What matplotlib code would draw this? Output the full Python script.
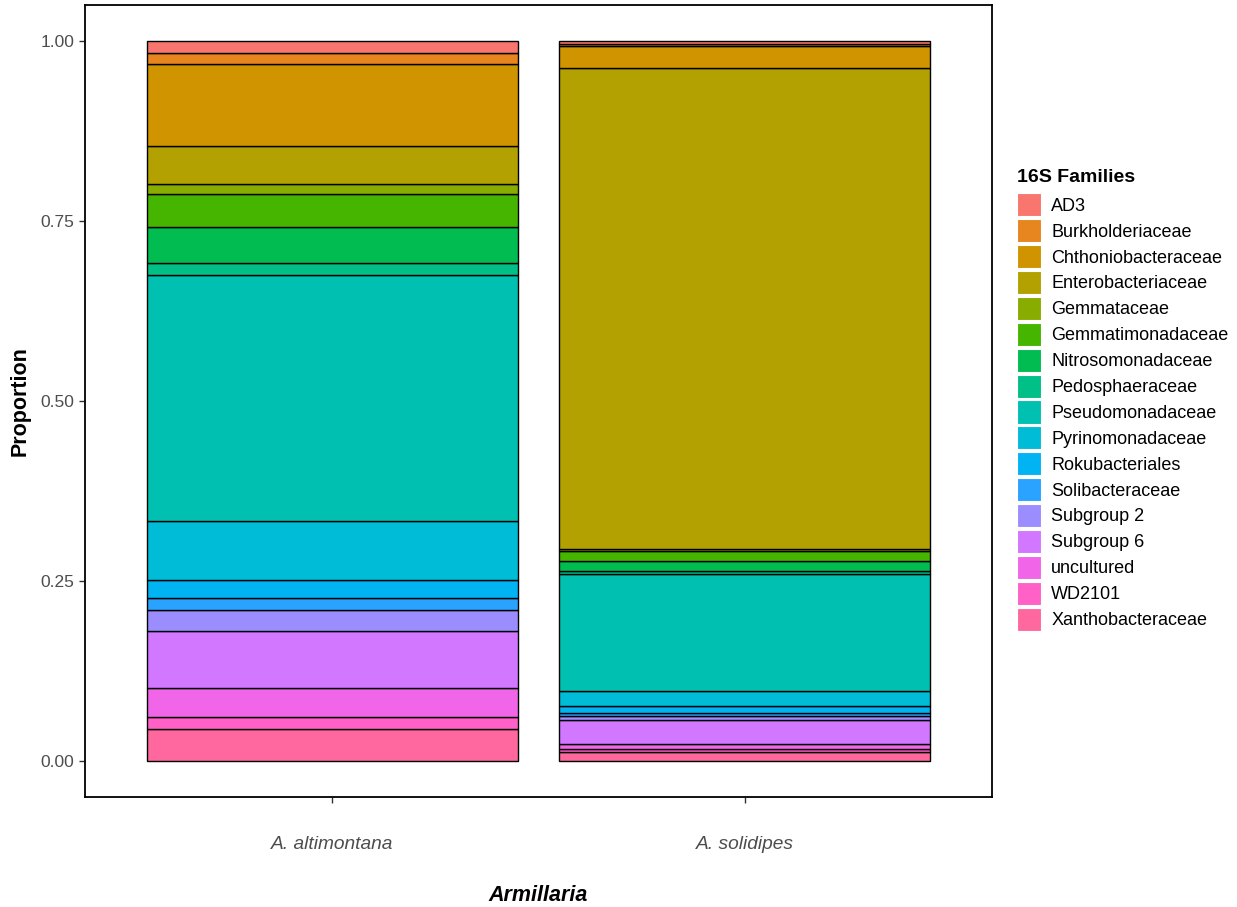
import numpy as np
import matplotlib
matplotlib.use("Agg")
import matplotlib.pyplot as plt
from matplotlib.patches import Patch

plt.rcParams['font.family'] = ['Liberation Sans', 'DejaVu Sans']

families = ["AD3", "Burkholderiaceae", "Chthoniobacteraceae", "Enterobacteriaceae",
            "Gemmataceae", "Gemmatimonadaceae", "Nitrosomonadaceae", "Pedosphaeraceae",
            "Pseudomonadaceae", "Pyrinomonadaceae", "Rokubacteriales", "Solibacteraceae",
            "Subgroup 2", "Subgroup 6", "uncultured", "WD2101", "Xanthobacteraceae"]
samples = ["A. altimontana", "A. solidipes"]

altimontana = [0.016, 0.016, 0.114, 0.053, 0.014, 0.045, 0.050, 0.017,
               0.342, 0.082, 0.024, 0.017, 0.030, 0.079, 0.040, 0.016, 0.045]
solidipes = [0.004, 0.003, 0.031, 0.667, 0.004, 0.013, 0.014, 0.004,
             0.163, 0.020, 0.010, 0.005, 0.005, 0.033, 0.008, 0.004, 0.012]


def hue_pal(n, l=65.0, c=100.0, h0=15.0):
    hues = np.linspace(h0, h0 + 360, n + 1)[:n]
    Xn, Yn, Zn = 95.047, 100.0, 108.883
    un = 4 * Xn / (Xn + 15 * Yn + 3 * Zn)
    vn = 9 * Yn / (Xn + 15 * Yn + 3 * Zn)
    M = np.array([[3.2404542, -1.5371385, -0.4985314],
                  [-0.9692660, 1.8760108, 0.0415560],
                  [0.0556434, -0.2040259, 1.0572252]])
    out = []
    for h in hues:
        hr = np.deg2rad(h)
        u, v = c * np.cos(hr), c * np.sin(hr)
        Y = Yn * ((l + 16) / 116) ** 3
        up = u / (13 * l) + un
        vp = v / (13 * l) + vn
        X = Y * 9 * up / (4 * vp)
        Z = Y * (12 - 3 * up - 20 * vp) / (4 * vp)
        rgb = M @ (np.array([X, Y, Z]) / 100.0)
        rgb = np.where(rgb <= 0.0031308, 12.92 * rgb, 1.055 * np.power(np.clip(rgb, 0, None), 1 / 2.4) - 0.055)
        out.append(tuple(np.clip(rgb, 0, 1)))
    return out


colors = hue_pal(len(families))

fig = plt.figure(figsize=(12.37, 9.07), dpi=100)
ax = fig.add_axes([85 / 1237, 1 - 797 / 907, (992 - 85) / 1237, (797 - 5) / 907])

data = np.array([altimontana, solidipes])  # shape (2, 17)
xpos = np.arange(1, len(samples) + 1)
bottom = np.zeros(len(samples))
# stack from last family (bottom) to first (top)
for i in range(len(families) - 1, -1, -1):
    ax.bar(xpos, data[:, i], width=0.9, bottom=bottom, color=colors[i],
           edgecolor='black', linewidth=1.0)
    bottom += data[:, i]

ax.set_xlim(0.4, 2.6)
ax.set_ylim(-0.05, 1.05)
ax.set_yticks([0, 0.25, 0.5, 0.75, 1.0])
ax.set_yticklabels(["0.00", "0.25", "0.50", "0.75", "1.00"])
ax.set_xticks(xpos)
ax.set_xticklabels(samples, style='italic')
ax.tick_params(axis='both', colors='#333333', labelcolor='#4d4d4d', labelsize=12.5,
               length=4, width=1.0)
ax.tick_params(axis='x', pad=24, labelsize=13.8)
for s in ax.spines.values():
    s.set_linewidth(1.3)
    s.set_color('black')

ax.set_ylabel("Proportion", fontsize=15.5, fontweight='bold', labelpad=7)
ax.set_xlabel("Armillaria", fontsize=15.5, fontweight='bold', style='italic', labelpad=23)

handles = [Patch(facecolor=colors[i], edgecolor='white', linewidth=0.8) for i in range(len(families))]
leg = fig.legend(handles, families, loc='upper left', bbox_to_anchor=(1012 / 1237, 1 - 164 / 907),
                 frameon=False, fontsize=13, title="16S Families",
                 title_fontproperties={'weight': 'bold', 'size': 14},
                 handlelength=1.33, handleheight=1.59, labelspacing=0.155,
                 handletextpad=0.55, borderaxespad=0, borderpad=0.3)
leg._legend_box.align = "left"
leg._legend_box.sep = 0.155 * 13 + 3

fig.savefig("out.png", dpi=100)
